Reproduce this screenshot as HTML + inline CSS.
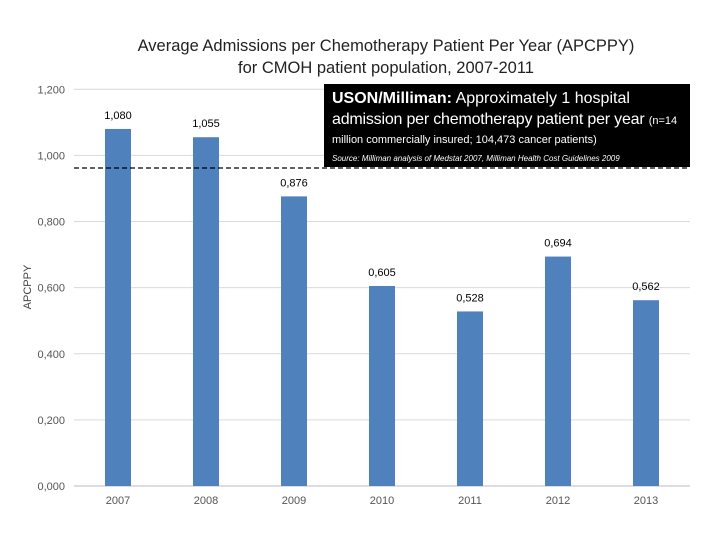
<!DOCTYPE html>
<html><head><meta charset="utf-8"><style>
body{margin:0;background:#fff;width:720px;height:540px;overflow:hidden;font-family:"Liberation Sans",sans-serif}
#box{position:absolute;left:324px;top:84px;width:366px;height:83px;background:#000;color:#fff;box-sizing:border-box;padding:4px 0 0 8px;overflow:hidden}
#box div{white-space:nowrap}
</style></head><body>
<svg id="chart" width="720" height="540" style="position:absolute;left:0;top:0">
<text x="386" y="51" text-anchor="middle" font-size="16.5" fill="#222">Average Admissions per Chemotherapy Patient Per Year (APCPPY)</text>
<text x="386" y="73" text-anchor="middle" font-size="16.5" fill="#222">for CMOH patient population, 2007-2011</text>
<text x="31" y="287" text-anchor="middle" font-size="11" fill="#444" transform="rotate(-90 31 287)">APCPPY</text>
<g id="grid"></g><g id="bars"></g>
<line x1="74" y1="168" x2="690" y2="168" stroke="#000" stroke-width="1.2" stroke-dasharray="5,3"/>
</svg>
<div id="box">
<div style="font-size:16px;line-height:21px"><b>USON/Milliman:</b> Approximately 1 hospital</div>
<div style="font-size:16px;line-height:21px;letter-spacing:-0.2px">admission per chemotherapy patient per year <span style="font-size:11px;letter-spacing:0">(n=14</span></div>
<div style="font-size:11px;line-height:16px">million commercially insured; 104,473 cancer patients)</div>
<div style="font-size:8px;font-style:italic;margin-top:6px">Source: Milliman analysis of Medstat 2007, Milliman Health Cost Guidelines 2009</div>
</div>
<script>
const categories=["2007","2008","2009","2010","2011","2012","2013"];
const values=[1.080,1.055,0.876,0.605,0.528,0.694,0.562];
const ticks=[0,0.2,0.4,0.6,0.8,1.0,1.2];
const ns="http://www.w3.org/2000/svg";
const x0=74,pw=616,y0=486,k=330.6;
const y=v=>y0-v*k;
const xc=i=>x0+pw/categories.length*(i+0.5);
const fmt=v=>v.toFixed(3).replace('.',',');
const g=document.getElementById('grid'),b=document.getElementById('bars');
function mk(t,a,p){const e=document.createElementNS(ns,t);for(const q in a)e.setAttribute(q,a[q]);p.appendChild(e);return e;}
ticks.forEach(t=>{
const l=mk('line',{x1:x0,x2:690,y1:y(t),y2:y(t),stroke:t===0?'#bbb':'#d9d9d9'},g);


const tx=mk('text',{x:65,y:y(t)+4,'text-anchor':'end','font-size':11,fill:'#555'},g);
tx.textContent=fmt(t);


});
categories.forEach((c,i)=>{
const v=values[i];
const r=mk('rect',{x:xc(i)-13,y:y(v),width:26,height:v*k,fill:'#4f81bd'},b);


const lb=mk('text',{x:xc(i),y:y(v)-10,'text-anchor':'middle','font-size':11,fill:'#000'},b);
lb.textContent=fmt(v);


const ct=mk('text',{x:xc(i),y:504,'text-anchor':'middle','font-size':11,fill:'#555'},b);
ct.textContent=c;


});
</script>
</body></html>
